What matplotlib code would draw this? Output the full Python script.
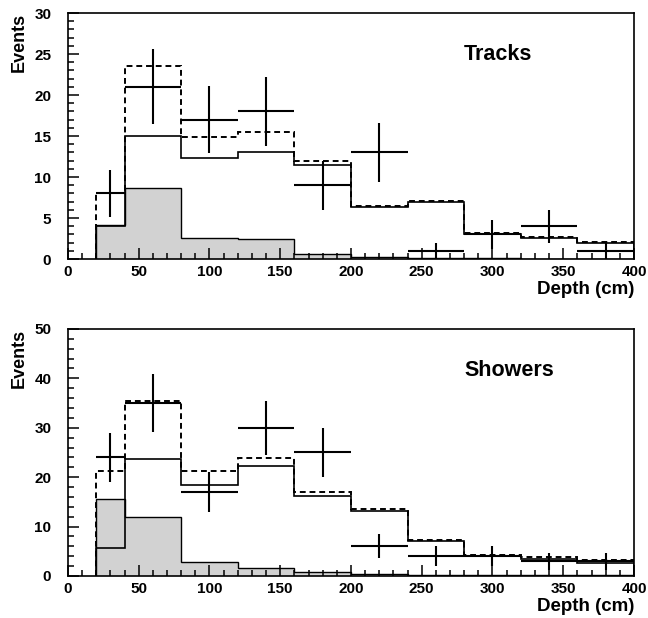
import matplotlib
matplotlib.use("Agg")
import matplotlib.pyplot as plt
import numpy as np
from matplotlib.ticker import MultipleLocator

plt.rcParams['font.family'] = ['Liberation Sans', 'DejaVu Sans']
plt.rcParams['font.weight'] = 'bold'

# depth bins (cm)
edges = [20, 40, 80, 120, 160, 200, 240, 280, 320, 360, 400]

# tracks
tr_data = [8, 21, 17, 18, 9, 13, 1, 3, 4, 1]
tr_signal = [4.0, 15.0, 12.3, 13.0, 11.5, 6.3, 6.95, 3.1, 2.6, 2.0]
tr_bkg = [4.15, 8.6, 2.55, 2.45, 0.55, 0.3, 0.15, 0.1, 0.05, 0.05]
tr_total = [8.1, 23.6, 14.9, 15.45, 12.0, 6.5, 7.1, 3.2, 2.7, 2.05]

# showers
sh_data = [24, 35, 17, 30, 25, 6, 4, 4, 3, 3]
sh_signal = [5.7, 23.6, 18.4, 22.3, 16.2, 13.1, 7.0, 4.1, 3.4, 2.7]
sh_bkg = [15.6, 11.9, 2.9, 1.7, 0.75, 0.4, 0.2, 0.15, 0.1, 0.1]
sh_total = [21.3, 35.5, 21.2, 23.9, 17.0, 13.5, 7.2, 4.3, 3.9, 3.2]


def draw(ax, data, signal, bkg, total, ymax, ymaj, ymin, label, label_y):
    e = np.array(edges, dtype=float)
    centers = (e[:-1] + e[1:]) / 2
    halfw = (e[1:] - e[:-1]) / 2

    ax.stairs(bkg, e, fill=True, facecolor='#d2d2d2', edgecolor='black',
              linewidth=1.0, zorder=1)
    ax.stairs(signal, e, color='black', linewidth=1.2, zorder=2)
    ax.stairs(total, e, color='black', linewidth=1.4, linestyle=(0, (3, 2)),
              zorder=3)
    d = np.array(data, dtype=float)
    ax.errorbar(centers, d, xerr=halfw, yerr=np.sqrt(d), fmt='none',
                ecolor='black', elinewidth=1.5, capsize=0, zorder=4)

    ax.set_xlim(0, 400)
    ax.set_ylim(0, ymax)
    ax.xaxis.set_major_locator(MultipleLocator(50))
    ax.xaxis.set_minor_locator(MultipleLocator(10))
    ax.yaxis.set_major_locator(MultipleLocator(ymaj))
    ax.yaxis.set_minor_locator(MultipleLocator(ymin))
    ax.tick_params(which='both', direction='in', top=False, right=False,
                   width=1.1, labelsize=11)
    ax.tick_params(which='major', length=8)
    ax.tick_params(which='minor', length=4.5)
    ax.tick_params(axis='x', which='major', pad=4)
    ax.tick_params(axis='y', which='major', pad=12)
    for s in ax.spines.values():
        s.set_linewidth(1.2)
    for t in ax.get_xticklabels() + ax.get_yticklabels():
        t.set_fontweight('bold')

    ax.text(280, label_y, label, fontsize=15.5, fontweight='bold',
            va='center', ha='left')
    ax.text(1.0, -0.125, 'Depth (cm)', transform=ax.transAxes, ha='right',
            va='center', fontsize=13.5, fontweight='bold')
    ax.text(-0.086, 1.0, 'Events', transform=ax.transAxes, rotation=90,
            ha='center', va='top', fontsize=13, fontweight='bold')


fig = plt.figure(figsize=(6.48, 6.18), dpi=100)
ax1 = fig.add_axes([0.1049, 0.5809, 0.8735, 0.398])
ax2 = fig.add_axes([0.1049, 0.068, 0.8735, 0.3997])

draw(ax1, tr_data, tr_signal, tr_bkg, tr_total, 30, 5, 1, 'Tracks', 24.9)
draw(ax2, sh_data, sh_signal, sh_bkg, sh_total, 50, 10, 2, 'Showers', 41.5)

fig.savefig('out.png', dpi=100)
